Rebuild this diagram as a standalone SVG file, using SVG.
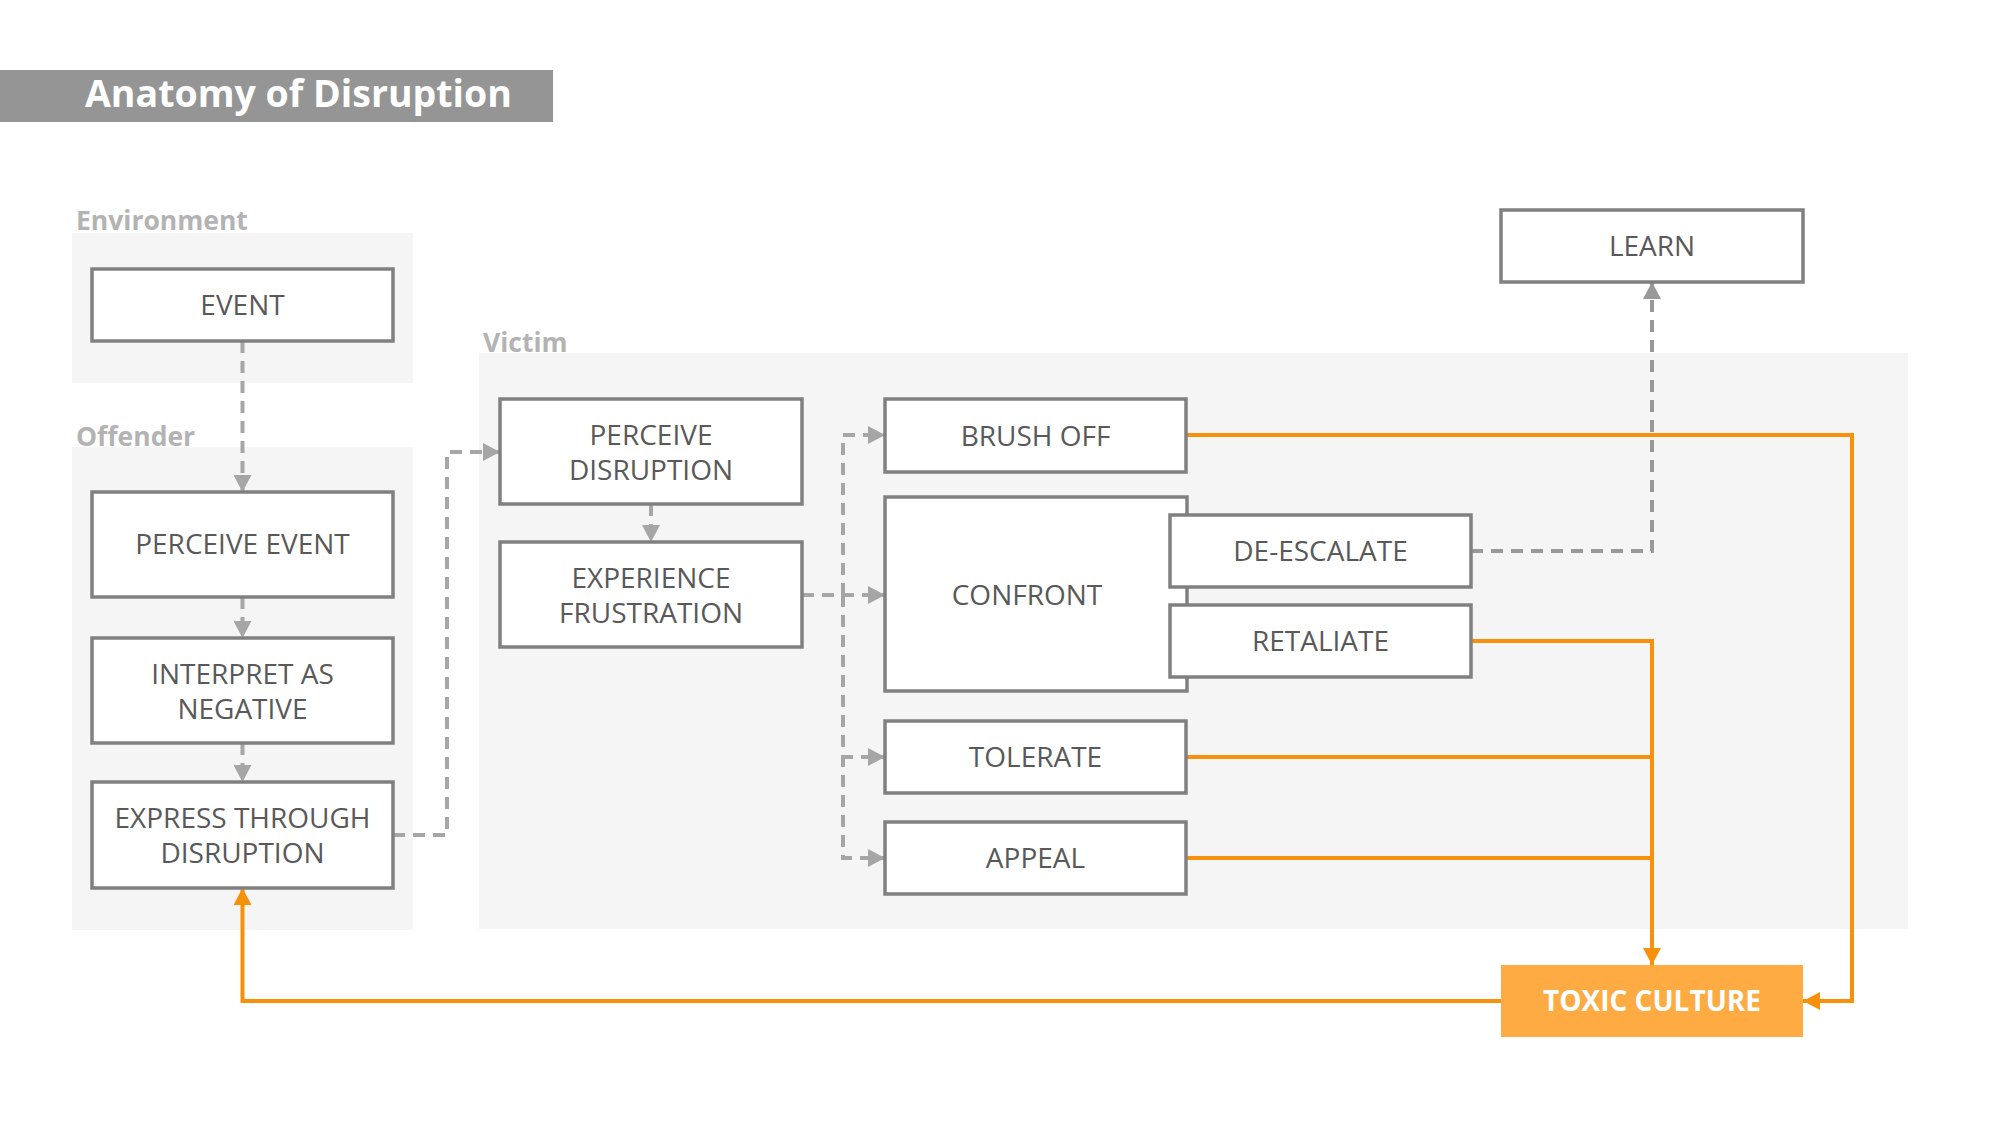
<svg xmlns="http://www.w3.org/2000/svg" width="2000" height="1125" viewBox="0 0 2000 1125">
<defs>
<style>
.bg{fill:#f5f5f5}
.lbl{font-family:"Open Sans","Noto Sans",sans-serif;font-weight:700;font-size:26.5px;fill:#b3b3b3}
.box{fill:#ffffff;stroke:#808080;stroke-width:3.5}
.t{font-family:"Open Sans","Noto Sans",sans-serif;font-size:28px;fill:#595959;text-anchor:middle}
.dash{fill:none;stroke:#a6a6a6;stroke-width:4;stroke-dasharray:12 8}
.dash2{fill:none;stroke:#999999;stroke-width:4;stroke-dasharray:12 8}
.or{fill:none;stroke:#f7900a;stroke-width:4}
</style>
<marker id="ag" viewBox="0 0 17 18" markerWidth="17" markerHeight="18" refX="17" refY="9" orient="auto" markerUnits="userSpaceOnUse"><path d="M0,0 L17,9 L0,18 z" fill="#a6a6a6"/></marker>
<marker id="ag2" viewBox="0 0 17 18" markerWidth="17" markerHeight="18" refX="17" refY="9" orient="auto" markerUnits="userSpaceOnUse"><path d="M0,0 L17,9 L0,18 z" fill="#999999"/></marker>
<marker id="ao" viewBox="0 0 17 18" markerWidth="17" markerHeight="18" refX="17" refY="9" orient="auto" markerUnits="userSpaceOnUse"><path d="M0,0 L17,9 L0,18 z" fill="#f7900a"/></marker>
</defs>
<rect width="2000" height="1125" fill="#ffffff"/>
<g id="title">
<rect x="0" y="70" width="553" height="52" fill="#959595"/>
<text x="85" y="107" font-family="'Open Sans','Noto Sans',sans-serif" font-weight="700" font-size="37.5" fill="#ffffff">Anatomy of Disruption</text>
</g>
<g id="lanes">
<rect class="bg" x="72" y="233" width="341" height="150"/>
<text class="lbl" x="76" y="230">Environment</text>
<rect class="bg" x="72" y="447" width="341" height="483"/>
<text class="lbl" x="76" y="446">Offender</text>
<rect class="bg" x="479" y="353" width="1429" height="576"/>
<text class="lbl" x="483" y="352">Victim</text>
</g>
<g id="connectors">
<path class="dash" d="M242.5,341 V492" marker-end="url(#ag)"/>
<path class="dash" d="M242.5,597 V638" marker-end="url(#ag)"/>
<path class="dash" d="M242.5,743 V782" marker-end="url(#ag)"/>
<path class="dash" d="M393,835 H447 V452 H500" marker-end="url(#ag)"/>
<path class="dash" d="M651,504 V542" marker-end="url(#ag)"/>
<path class="dash" d="M802,595 H885" marker-end="url(#ag)"/>
<path class="dash" d="M843,595 V435 H885" marker-end="url(#ag)"/>
<path class="dash" d="M843,595 V757 H885" marker-end="url(#ag)"/>
<path class="dash" d="M843,595 V858 H885" marker-end="url(#ag)"/>
<path class="dash2" d="M1471,551 H1652 V282" marker-end="url(#ag2)"/>
<path class="or" d="M1186,435 H1852 V1001 H1803" marker-end="url(#ao)"/>
<path class="or" d="M1471,641 H1652 V965" marker-end="url(#ao)"/>
<path class="or" d="M1186,757 H1652"/>
<path class="or" d="M1186,858 H1652"/>
<path class="or" d="M1501,1001 H242.5 V888" marker-end="url(#ao)"/>
</g>
<g id="event"><rect class="box" x="92" y="269" width="301" height="72"/><text class="t" x="242.5" y="315">EVENT</text></g>
<g id="perceive-event"><rect class="box" x="92" y="492" width="301" height="105"/><text class="t" x="242.5" y="554">PERCEIVE EVENT</text></g>
<g id="interpret"><rect class="box" x="92" y="638" width="301" height="105"/><text class="t" x="242.5" y="684">INTERPRET AS</text><text class="t" x="242.5" y="719">NEGATIVE</text></g>
<g id="express"><rect class="box" x="92" y="782" width="301" height="106"/><text class="t" x="242.5" y="828">EXPRESS THROUGH</text><text class="t" x="242.5" y="863">DISRUPTION</text></g>
<g id="perceive-disruption"><rect class="box" x="500" y="399" width="302" height="105"/><text class="t" x="651" y="445">PERCEIVE</text><text class="t" x="651" y="480">DISRUPTION</text></g>
<g id="experience"><rect class="box" x="500" y="542" width="302" height="105"/><text class="t" x="651" y="588">EXPERIENCE</text><text class="t" x="651" y="623">FRUSTRATION</text></g>
<g id="brush-off"><rect class="box" x="885" y="399" width="301" height="73"/><text class="t" x="1035.5" y="446">BRUSH OFF</text></g>
<g id="confront"><rect class="box" x="885" y="497" width="302" height="194"/><text class="t" x="1027" y="605">CONFRONT</text></g>
<g id="de-escalate"><rect class="box" x="1170" y="515" width="301" height="72"/><text class="t" x="1320.5" y="561">DE-ESCALATE</text></g>
<g id="retaliate"><rect class="box" x="1170" y="605" width="301" height="72"/><text class="t" x="1320.5" y="651">RETALIATE</text></g>
<g id="tolerate"><rect class="box" x="885" y="721" width="301" height="72"/><text class="t" x="1035.5" y="767">TOLERATE</text></g>
<g id="appeal"><rect class="box" x="885" y="822" width="301" height="72"/><text class="t" x="1035.5" y="868">APPEAL</text></g>
<g id="learn"><rect class="box" x="1501" y="210" width="302" height="72"/><text class="t" x="1652" y="256">LEARN</text></g>
<g id="toxic-culture"><rect x="1501" y="965" width="302" height="72" fill="#fdab42"/><text x="1652" y="1011" font-family="'Open Sans','Noto Sans',sans-serif" font-weight="700" font-size="28" fill="#ffffff" text-anchor="middle">TOXIC CULTURE</text></g>
</svg>
